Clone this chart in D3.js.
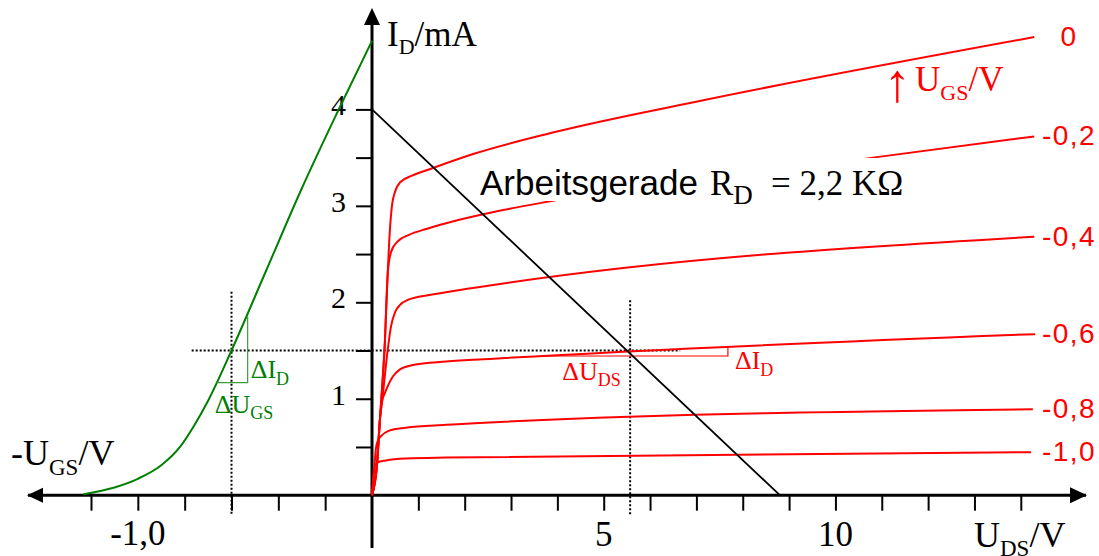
<!DOCTYPE html>
<html>
<head>
<meta charset="utf-8">
<script src="https://cdn.jsdelivr.net/npm/d3@7"></script>
<style>
  html, body { margin: 0; padding: 0; background: #fff; }
  svg { display: block; }
</style>
</head>
<body>
<svg id="chart" width="1099" height="556"></svg>
<script>
// ---------------------------------------------------------------
// JFET characteristics: output family I_D(U_DS) for several U_GS,
// transfer curve I_D(-U_GS) on the left, load line R_D = 2,2 kOhm.
// ---------------------------------------------------------------

// Gate voltages (curve labels, top to bottom)
const ugsLabels = ["0", "-0,2", "-0,4", "-0,6", "-0,8", "-1,0"];

// Output characteristics, points as [U_DS in V, I_D in mA]
const curveUgs0 = [[0,0],[0.11,0.33],[0.17,0.78],[0.23,1.2],[0.28,1.61],[0.33,2.2],[0.38,2.7],[0.43,3.0],[0.5,3.15],[0.62,3.25],[0.85,3.31],[1.3,3.39],[2.2,3.54],[3.9,3.76],[7.2,4.1],[14.29,4.75]];
const curveUgs02 = [[0,0],[0.11,0.33],[0.17,0.78],[0.23,1.2],[0.28,1.61],[0.31,2.0],[0.34,2.3],[0.41,2.52],[0.55,2.63],[0.8,2.7],[1.17,2.76],[1.6,2.82],[2.47,2.92],[3.87,3.05],[10.81,3.5],[14.29,3.72]];
const curveUgs04 = [[0,0],[0.11,0.33],[0.17,0.78],[0.22,0.98],[0.33,1.47],[0.41,1.75],[0.5,1.9],[0.6,1.97],[0.8,2.03],[1.3,2.08],[2.76,2.19],[14.29,2.68]];
const curveUgs06 = [[0,0],[0.11,0.33],[0.17,0.78],[0.22,0.98],[0.28,1.06],[0.34,1.13],[0.45,1.23],[0.59,1.3],[0.88,1.35],[1.6,1.385],[2.62,1.415],[14.31,1.67]];
const curveUgs08 = [[0,0],[0.04,0.22],[0.086,0.49],[0.13,0.57],[0.19,0.61],[0.37,0.67],[0.73,0.7],[1.6,0.73],[2.76,0.76],[14.26,0.89]];
const curveUgs10 = [[0,0],[0.025,0.18],[0.05,0.29],[0.12,0.34],[0.3,0.36],[0.73,0.38],[1.6,0.39],[14.22,0.445]];

// Transfer characteristic, points as [-U_GS in V, I_D in mA]
const transferCurve = [[0,4.71],[0.15,3.96],[0.3,3.18],[0.45,2.34],[0.6,1.5],[0.7,0.98],[0.76,0.72],[0.82,0.5],[0.9,0.31],[1.0,0.17],[1.1,0.08],[1.233,0.01]];

// Load line end points [U_DS, I_D]
const loadLine = [[0, 4], [8.8, 0]];

// Operating point
const opUds = 5.57, opId = 1.5, opUgs = 0.6;

// Slope triangles: corner points in each diagram's units
const triangleOutput = [[3.63, 1.443], [7.68, 1.443], [7.68, 1.537]];
const triangleTransfer = [[0.663, 1.167], [0.531, 1.167], [0.531, 1.85]];

// Axis ticks and labels
const idTicks = [0.5, 1, 1.5, 2, 2.5, 3, 3.5, 4];
const idTickLabels = [1, 2, 3, 4];
const udsTicks = d3.range(1, 15);
const udsTickLabels = [5, 10];
const ugsTicks = [0.2, 0.4, 0.6, 0.8, 1.0, 1.2];
const ugsTickLabels = [1.0];

// ---------------------------------------------------------------
const svg = d3.select("#chart");
const SERIF = "'Liberation Serif', 'Times New Roman', serif";
const SANS = "'Liberation Sans', Arial, sans-serif";
const RED = "#ff0000";
const GREEN = "#008000";

const x = d3.scaleLinear().domain([0, 14]).range([372, 1020.8]);      // U_DS to the right
const xl = d3.scaleLinear().domain([0, 1.2]).range([372, 91]);        // -U_GS to the left
const y = d3.scaleLinear().domain([0, 4]).range([495.2, 109.4]);      // I_D upwards

const x0 = x(0), y0 = y(0);

// Text with subscripts
function rich(sel, px, py, parts, o) {
  const t = sel.append("text")
    .attr("x", px).attr("y", py)
    .attr("font-family", o.family)
    .attr("font-size", o.size)
    .attr("fill", o.color || "#000")
    .attr("text-anchor", o.anchor || "start");
  parts.forEach((p, i) => {
    const ts = t.append("tspan").text(p.t);
    if (p.sub) ts.attr("font-size", o.subSize).attr("dy", o.subShift);
    else if (i > 0 && parts[i - 1].sub) ts.attr("dy", -o.subShift);
    if (p.family) ts.attr("font-family", p.family);
    if (p.x != null) ts.attr("x", p.x);
  });
  return t;
}

// ---- axes ------------------------------------------------------
const axes = svg.append("g");

// I_D axis ticks
const yAxis = axes.append("g")
  .attr("transform", `translate(${x0},0)`)
  .call(d3.axisLeft(y).tickValues(idTicks).tickSize(16).tickFormat(""));
yAxis.select(".domain").remove();
yAxis.selectAll(".tick line").attr("stroke", "#000").attr("stroke-width", 2);

axes.selectAll(".idlab").data(idTickLabels).join("text")
  .attr("class", "idlab")
  .attr("x", 346).attr("y", d => y(d) + 6)
  .attr("text-anchor", "end")
  .attr("font-family", SERIF).attr("font-size", 30)
  .text(d => d);

// U_DS axis ticks
const xAxis = axes.append("g")
  .attr("transform", `translate(0,${y0})`)
  .call(d3.axisBottom(x).tickValues(udsTicks).tickSize(15.5).tickFormat(""));
xAxis.select(".domain").remove();
xAxis.selectAll(".tick line").attr("stroke", "#000").attr("stroke-width", 2);

axes.selectAll(".udslab").data(udsTickLabels).join("text")
  .attr("class", "udslab")
  .attr("x", d => x(d)).attr("y", 546)
  .attr("text-anchor", "middle")
  .attr("font-family", SERIF).attr("font-size", 35)
  .text(d => d);

// -U_GS axis ticks
const xlAxis = axes.append("g")
  .attr("transform", `translate(0,${y0})`)
  .call(d3.axisBottom(xl).tickValues(ugsTicks).tickSize(15.5).tickFormat(""));
xlAxis.select(".domain").remove();
xlAxis.selectAll(".tick line").attr("stroke", "#000").attr("stroke-width", 2);

axes.selectAll(".ugslab").data(ugsTickLabels).join("text")
  .attr("class", "ugslab")
  .attr("x", d => xl(d)).attr("y", 545)
  .attr("text-anchor", "middle")
  .attr("font-family", SERIF).attr("font-size", 35)
  .text(d => "-" + d.toFixed(1).replace(".", ","));

// Axis lines with arrow heads
axes.append("line")
  .attr("x1", 28).attr("x2", 1086).attr("y1", y0).attr("y2", y0)
  .attr("stroke", "#000").attr("stroke-width", 3);
axes.append("line")
  .attr("x1", x0).attr("x2", x0).attr("y1", 12).attr("y2", 548)
  .attr("stroke", "#000").attr("stroke-width", 3);
axes.append("path").attr("d", `M1087,${y0} L1070,${y0 - 8} L1070,${y0 + 8} Z`).attr("fill", "#000");
axes.append("path").attr("d", `M27,${y0} L43,${y0 - 7.5} L43,${y0 + 7.5} Z`).attr("fill", "#000");
axes.append("path").attr("d", `M${x0},8 L${x0 - 8},25 L${x0 + 8},25 Z`).attr("fill", "#000");

// Axis titles
rich(svg, 387, 46, [{ t: "I" }, { t: "D", sub: true }, { t: "/mA" }],
  { family: SERIF, size: 35, subSize: 22, subShift: 8 });
rich(svg, 11, 465, [{ t: "-U" }, { t: "GS", sub: true }, { t: "/V" }],
  { family: SERIF, size: 36, subSize: 23, subShift: 10 });
rich(svg, 974, 547, [{ t: "U" }, { t: "DS", sub: true }, { t: "/V" }],
  { family: SERIF, size: 36, subSize: 23, subShift: 9 });

// ---- operating point guides ------------------------------------
const guides = svg.append("g")
  .attr("stroke", "#000").attr("stroke-width", 2).attr("stroke-dasharray", "2,2");
guides.append("line")
  .attr("x1", xl(0.77)).attr("x2", x(6.65)).attr("y1", y(opId)).attr("y2", y(opId));
guides.append("line")
  .attr("x1", xl(opUgs)).attr("x2", xl(opUgs)).attr("y1", y(2.11)).attr("y2", y(-0.2));
guides.append("line")
  .attr("x1", x(opUds)).attr("x2", x(opUds)).attr("y1", y(2.02)).attr("y2", y(-0.2));

// ---- output characteristics ------------------------------------
const outCurves = [curveUgs0, curveUgs02, curveUgs04, curveUgs06, curveUgs08, curveUgs10];
const lineOut = d3.line().x(d => x(d[0])).y(d => y(d[1])).curve(d3.curveMonotoneX);

svg.append("g").selectAll("path").data(outCurves).join("path")
  .attr("d", lineOut)
  .attr("fill", "none").attr("stroke", RED).attr("stroke-width", 2);

// Curve labels at the right-hand end of each curve
svg.append("g").selectAll("text").data(outCurves).join("text")
  .attr("x", 1069)
  .attr("y", d => y(d[d.length - 1][1]) + 9)
  .attr("text-anchor", "middle")
  .attr("font-family", SANS).attr("font-size", 28)
  .attr("letter-spacing", 1.5)
  .attr("fill", RED)
  .text((d, i) => ugsLabels[i]);

// ---- transfer characteristic -----------------------------------
const lineTr = d3.line().x(d => xl(d[0])).y(d => y(d[1])).curve(d3.curveMonotoneX);
svg.append("path")
  .datum(transferCurve)
  .attr("d", lineTr)
  .attr("fill", "none").attr("stroke", GREEN).attr("stroke-width", 2);

// ---- slope triangles -------------------------------------------
svg.append("path")
  .datum(triangleOutput)
  .attr("d", d3.line().x(d => x(d[0])).y(d => y(d[1])))
  .attr("fill", "none").attr("stroke", RED).attr("stroke-width", 1.2);
svg.append("path")
  .datum(triangleTransfer)
  .attr("d", d3.line().x(d => xl(d[0])).y(d => y(d[1])))
  .attr("fill", "none").attr("stroke", "#3c9c3c").attr("stroke-width", 1.2);

rich(svg, x(triangleOutput[0][0]) + 22, 380, [{ t: "ΔU" }, { t: "DS", sub: true }],
  { family: SERIF, size: 26, subSize: 18, subShift: 6, color: RED });
rich(svg, x(triangleOutput[1][0]) + 7, 369, [{ t: "ΔI" }, { t: "D", sub: true }],
  { family: SERIF, size: 26, subSize: 18, subShift: 7, color: RED });
rich(svg, xl(triangleTransfer[1][0]) + 3, 378, [{ t: "ΔI" }, { t: "D", sub: true }],
  { family: SERIF, size: 26, subSize: 18, subShift: 7, color: GREEN });
rich(svg, xl(triangleTransfer[0][0]) - 2, 413, [{ t: "ΔU" }, { t: "GS", sub: true }],
  { family: SERIF, size: 26, subSize: 18, subShift: 6, color: GREEN });

// ---- load line -------------------------------------------------
svg.append("path")
  .datum(loadLine)
  .attr("d", d3.line().x(d => x(d[0])).y(d => y(d[1])))
  .attr("fill", "none").attr("stroke", "#000").attr("stroke-width", 1.8);

// Load line caption on a white box
svg.append("rect")
  .attr("x", 478).attr("y", 158).attr("width", 440).attr("height", 43)
  .attr("fill", "#fff");
const cap = svg.append("text")
  .attr("y", 195).attr("font-size", 35).attr("fill", "#000");
cap.append("tspan").attr("x", 480).attr("font-family", SANS).text("Arbeitsgerade");
cap.append("tspan").attr("x", 710).attr("font-family", SERIF).text("R");
cap.append("tspan").attr("font-family", SERIF).attr("font-size", 27).attr("dy", 9).text("D");
cap.append("tspan").attr("x", 771).attr("dy", -9).attr("font-family", SERIF).text("= 2,2 KΩ");

// Gate voltage legend
svg.append("text")
  .attr("x", 884).attr("y", 101)
  .attr("font-family", SERIF).attr("font-size", 54)
  .attr("fill", RED).text("↑");
rich(svg, 915, 91, [{ t: "U" }, { t: "GS", sub: true }, { t: "/V" }],
  { family: SERIF, size: 35, subSize: 22, subShift: 9, color: RED });
</script>
</body>
</html>
